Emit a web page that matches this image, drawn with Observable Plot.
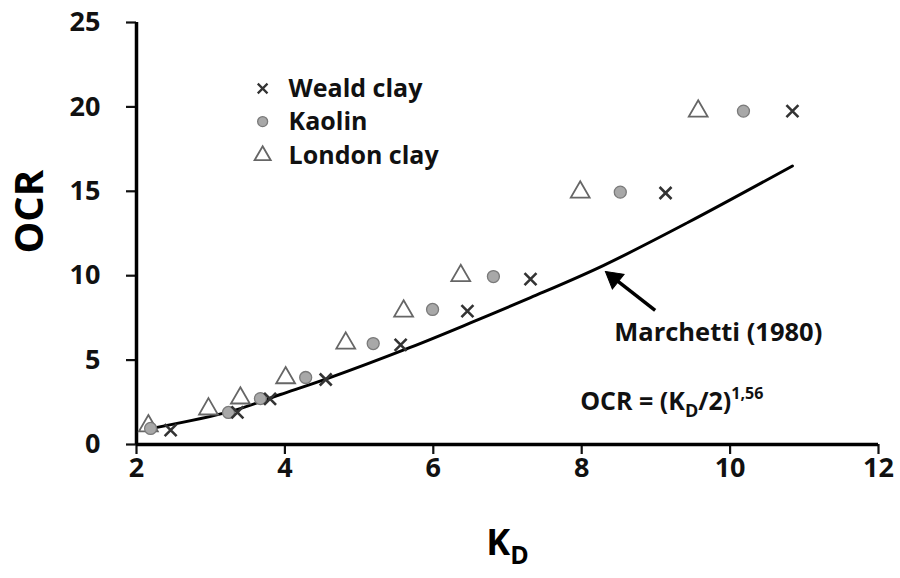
<!DOCTYPE html>
<html>
<head>
<meta charset="utf-8">
<script src="https://cdn.jsdelivr.net/npm/d3@7"></script>
<script src="https://cdn.jsdelivr.net/npm/@observablehq/plot@0.6"></script>
<style>
  html, body { margin: 0; padding: 0; background: #fff; }
  #chart { width: 900px; height: 578px; }
</style>
</head>
<body>
<div id="chart"></div>
<script>
// ---- data ----
const wealdKD  = [2.46, 3.36, 3.80, 4.55, 5.56, 6.46, 7.31, 9.13, 10.84];
const wealdOCR = [0.85, 1.90, 2.70, 3.85, 5.90, 7.90, 9.80, 14.90, 19.75];

const kaolinKD  = [2.19, 3.24, 3.67, 4.28, 5.19, 5.99, 6.81, 8.52, 10.18];
const kaolinOCR = [0.95, 1.90, 2.72, 3.97, 5.98, 8.00, 9.95, 14.95, 19.75];

const londonKD  = [2.16, 2.97, 3.40, 4.01, 4.82, 5.60, 6.37, 7.98, 9.57];
const londonOCR = [1.10, 2.10, 2.75, 3.95, 6.00, 7.90, 10.00, 14.95, 19.75];

// Marchetti (1980) curve as drawn in the picture
const curveKD  = [2.26, 3.27, 3.94, 4.57, 5.69, 6.50, 7.31, 8.29, 9.43, 10.84];
const curveOCR = [1.00, 1.96, 2.96, 3.90, 5.75, 7.20, 8.70, 10.60, 13.15, 16.50];

const seriesNames = ["Weald clay", "Kaolin", "London clay"];
const legendKD = 3.70, legendTextKD = 4.05;
const legendOCR = [21.09, 19.13, 17.12];

const xTicks = [2, 4, 6, 8, 10, 12];
const yTicks = [0, 5, 10, 15, 20, 25];

const arrowFrom = [8.99, 7.94];   // tail
const arrowShaftEnd = [8.42, 9.90];
const arrowTo = [8.32, 10.25];    // tip
const curveLabel = "Marchetti (1980)";
const curveLabelPos = [9.84, 6.63];
const formulaText = "OCR = (KD/2)1,56";
const formulaPos = [7.98, 2.5];

// ---- build tables ----
const toRows = (xs, ys) => xs.map((x, i) => ({x, y: ys[i]}));
const weald = toRows(wealdKD, wealdOCR);
const kaolin = toRows(kaolinKD, kaolinOCR);
const london = toRows(londonKD, londonOCR);
const curve = toRows(curveKD, curveOCR);
const legend = seriesNames.map((name, i) => ({name, x: legendKD, tx: legendTextKD, y: legendOCR[i]}));

const FONT = "'Open Sans', 'DejaVu Sans', sans-serif";

const crossStyle = {symbol: "times", r: 5.5, stroke: "#333", strokeWidth: 2.6, fill: "none"};
const circleStyle = {symbol: "circle", r: 6, fill: "#a8a8a8", stroke: "#7a7a7a", strokeWidth: 1.3};
const triStyle = {symbol: "triangle", r: 7, fill: "white", stroke: "#666", strokeWidth: 1.8};

const plot = Plot.plot({
  width: 900,
  height: 578,
  marginLeft: 136,
  marginRight: 22,
  marginTop: 22,
  marginBottom: 134,
  style: {fontFamily: FONT, fontWeight: "bold", background: "white", color: "#111"},
  x: {domain: [2, 12]},
  y: {domain: [0, 25]},
  marks: [
    Plot.axisX({ticks: xTicks, tickSize: 10, tickPadding: 3, fontSize: 27, strokeWidth: 2.2, label: null, tickFormat: d => d}),
    Plot.axisY({ticks: yTicks, tickSize: 10, tickPadding: 26, fontSize: 27, strokeWidth: 2.2, label: null, tickFormat: d => d}),
    Plot.ruleY([0], {stroke: "black", strokeWidth: 3.5}),
    Plot.ruleX([2], {stroke: "black", strokeWidth: 3.5}),
    // axis titles
    Plot.text(["KD"], {frameAnchor: "bottom", dy: 110, fontSize: 36, fill: "black", className: "kd-title"}),
    Plot.text(["OCR"], {frameAnchor: "left", dx: -106, dy: 20, rotate: -90, fontSize: 40, fill: "black"}),
    // Marchetti curve
    Plot.line(curve, {x: "x", y: "y", stroke: "black", strokeWidth: 3, curve: "catmull-rom"}),
    // data
    Plot.dot(london, {x: "x", y: "y", ...triStyle}),
    Plot.dot(kaolin, {x: "x", y: "y", ...circleStyle}),
    Plot.dot(weald, {x: "x", y: "y", ...crossStyle}),
    // legend
    Plot.dot([legend[0]], {x: "x", y: "y", ...crossStyle, r: 4.5, strokeWidth: 2.2}),
    Plot.dot([legend[1]], {x: "x", y: "y", ...circleStyle, r: 5}),
    Plot.dot([legend[2]], {x: "x", y: "y", ...triStyle, r: 6}),
    Plot.text(legend, {x: "tx", y: "y", text: "name", textAnchor: "start", fontSize: 25, fill: "#111"}),
    // annotation arrow: shaft + filled head
    Plot.link([{x1: arrowFrom[0], y1: arrowFrom[1], x2: arrowShaftEnd[0], y2: arrowShaftEnd[1]}],
      {x1: "x1", y1: "y1", x2: "x2", y2: "y2", stroke: "black", strokeWidth: 3.5}),
    Plot.dot([{x: arrowTo[0], y: arrowTo[1]}],
      {x: "x", y: "y", symbol: "triangle", r: 7, fill: "black", stroke: "black", strokeWidth: 1, rotate: -51.6, dx: 8.5, dy: 6.8}),
    Plot.text([curveLabel], {x: curveLabelPos[0], y: curveLabelPos[1], fontSize: 25.5, fill: "#111"}),
    Plot.text([formulaText], {x: formulaPos[0], y: formulaPos[1], textAnchor: "start", fontSize: 25, fill: "#111", className: "formula"})
  ]
});

// subscripts / superscripts
d3.select(plot).selectAll(".kd-title text").each(function () {
  const t = d3.select(this);
  t.text("");
  t.append("tspan").text("K");
  t.append("tspan").attr("font-size", 25).attr("dy", 9).text("D");
});
d3.select(plot).selectAll(".formula text").each(function () {
  const t = d3.select(this);
  t.text("");
  t.append("tspan").text("OCR = (K");
  t.append("tspan").attr("font-size", 18).attr("dy", 7).text("D");
  t.append("tspan").attr("dy", -7).text("/2)");
  t.append("tspan").attr("font-size", 16).attr("dy", -11).text("1,56");
});

document.getElementById("chart").appendChild(plot);
</script>
</body>
</html>
